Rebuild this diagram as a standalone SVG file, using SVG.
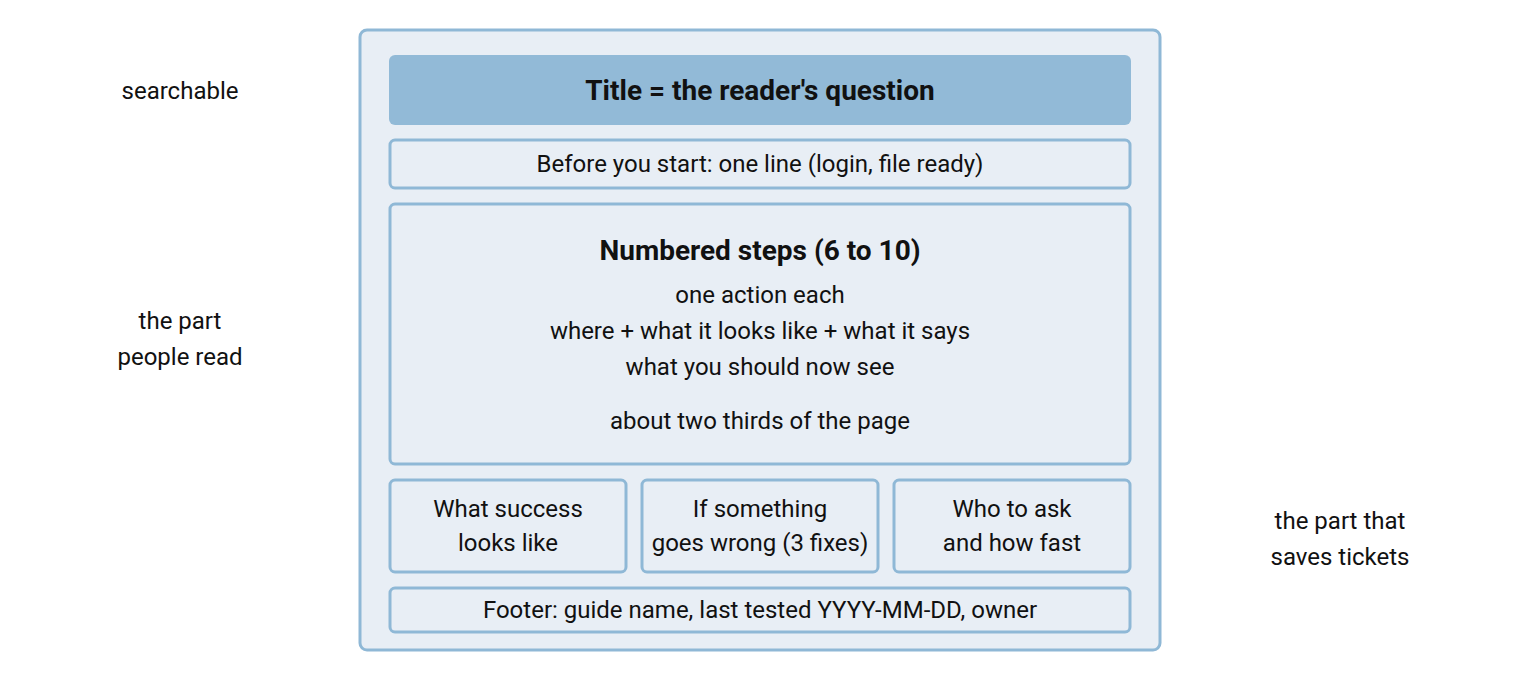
<svg xmlns="http://www.w3.org/2000/svg" width="1520" height="680" viewBox="0 0 1520 680">
<style>
text{font-family:Roboto,"Liberation Sans",sans-serif;font-size:24px;fill:#111;text-anchor:middle;dominant-baseline:central}
.b{font-weight:bold;font-size:28px}
.box{fill:#e8eef5;stroke:#8fb8d6;stroke-width:3}
</style>
<rect width="1520" height="680" fill="#fff"/>
<g id="outer"><rect class="box" x="360" y="30" width="800" height="620" rx="7"/></g>
<g id="title"><rect x="389" y="55" width="742" height="70" rx="6" fill="#92bad7"/><text class="b" x="760" y="90">Title = the reader's question</text></g>
<g id="before"><rect class="box" x="390" y="140" width="740" height="48" rx="5"/><text x="760" y="164">Before you start: one line (login, file ready)</text></g>
<g id="steps"><rect class="box" x="390" y="204" width="740" height="260" rx="5"/>
<text class="b" x="760" y="250">Numbered steps (6 to 10)</text>
<text x="760" y="295">one action each</text>
<text x="760" y="331">where + what it looks like + what it says</text>
<text x="760" y="367">what you should now see</text>
<text x="760" y="421">about two thirds of the page</text></g>
<g id="success"><rect class="box" x="390" y="480" width="236" height="92" rx="5"/><text x="508" y="509">What success</text><text x="508" y="543">looks like</text></g>
<g id="wrong"><rect class="box" x="642" y="480" width="236" height="92" rx="5"/><text x="760" y="509">If something</text><text x="760" y="543">goes wrong (3 fixes)</text></g>
<g id="ask"><rect class="box" x="894" y="480" width="236" height="92" rx="5"/><text x="1012" y="509">Who to ask</text><text x="1012" y="543">and how fast</text></g>
<g id="footer"><rect class="box" x="390" y="588" width="740" height="44" rx="5"/><text x="760" y="610">Footer: guide name, last tested YYYY-MM-DD, owner</text></g>
<g id="labels">
<text x="180" y="91">searchable</text>
<text x="180" y="321">the part</text><text x="180" y="357">people read</text>
<text x="1340" y="521">the part that</text><text x="1340" y="557">saves tickets</text>
</g>
<g id="connectors"/>
</svg>
